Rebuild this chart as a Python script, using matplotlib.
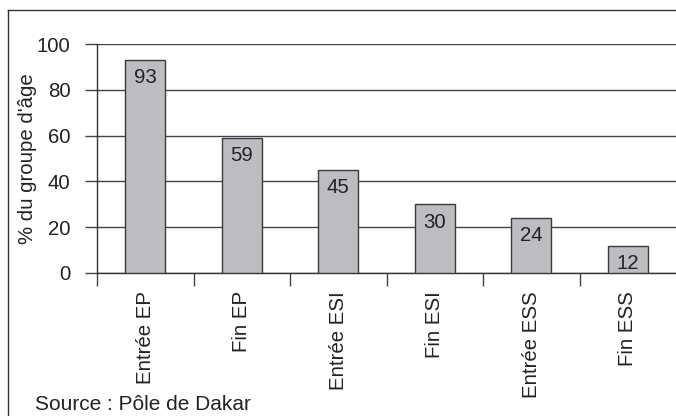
import matplotlib.pyplot as plt
from matplotlib.lines import Line2D

categories = ['Entrée EP', 'Fin EP', 'Entrée ESI', 'Fin ESI', 'Entrée ESS', 'Fin ESS']
values = [93, 59, 45, 30, 24, 12]
y_ticks = [0, 20, 40, 60, 80, 100]

plt.rcParams['font.family'] = ['Liberation Sans', 'DejaVu Sans']
fs = 14.7

fig = plt.figure(figsize=(6.76, 4.16), dpi=100)
ax = fig.add_axes([97 / 676, 1 - 273 / 416, 1 - 97 / 676, (273 - 44) / 416])

x = list(range(len(categories)))
bars = ax.bar(x, values, width=0.41, color='#bcbdc0', edgecolor='#3a3a3a',
              linewidth=1.0, zorder=3)
for b, v in zip(bars, values):
    ax.annotate(str(v), (b.get_x() + b.get_width() / 2, v), xytext=(0, -6),
                textcoords='offset points', ha='center', va='top',
                fontsize=fs, color='#222222', zorder=4)

ax.set_xlim(-0.5, len(categories) - 0.5)
ax.set_ylim(0, 100)
ax.set_yticks(y_ticks)
ax.yaxis.grid(True, color='#444444', linewidth=1.0, zorder=0)
ax.tick_params(axis='y', length=9, width=1, color='#444444', labelsize=fs,
               pad=10, labelcolor='#222222')

ax.set_xticks(x)
ax.set_xticklabels(categories, rotation=90, fontsize=fs, color='#222222')
ax.tick_params(axis='x', which='major', length=0, pad=13)
ax.set_xticks([i - 0.5 for i in x], minor=True)
ax.tick_params(axis='x', which='minor', length=9, width=1, color='#444444')

for s in ['top', 'right']:
    ax.spines[s].set_visible(False)
for s in ['left', 'bottom']:
    ax.spines[s].set_color('#333333')
    ax.spines[s].set_linewidth(1.0)

ax.set_ylabel("% du groupe d'âge", fontsize=fs, color='#222222', va='center')
ax.yaxis.set_label_coords((27 - 97) / 579, 0.5)

# outer frame of the figure
fig.add_artist(Line2D([8 / 676, 8 / 676], [0, 1 - 10 / 416], color='#333333', lw=1))
fig.add_artist(Line2D([8 / 676, 1], [1 - 10 / 416, 1 - 10 / 416], color='#333333', lw=1))

fig.text(35 / 676, 1 - 404 / 416, 'Source : Pôle de Dakar', fontsize=15,
         color='#222222', va='center', ha='left')

fig.savefig('out.png', dpi=100)
